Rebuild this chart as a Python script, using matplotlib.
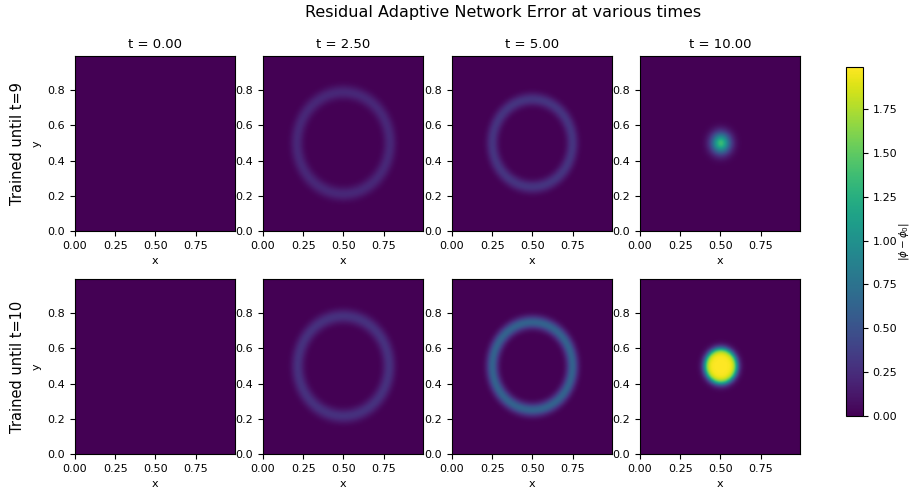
import numpy as np
import matplotlib
matplotlib.use("Agg")
import matplotlib.pyplot as plt

times = [0.0, 2.5, 5.0, 10.0]
row_labels = ["Trained until t=9", "Trained until t=10"]
# per-panel feature parameters: kind, radius, width, amplitude
kinds = [["none", "ring", "ring", "gauss"], ["none", "ring", "ring", "blob"]]
radii = [[0.0, 0.29, 0.25, 0.0], [0.0, 0.285, 0.25, 0.10]]
widths = [[0.03, 0.027, 0.025, 0.042], [0.03, 0.027, 0.025, 0.022]]
amps = [[0.0, 0.22, 0.30, 1.35], [0.0, 0.28, 0.62, 1.99]]
vmax = 1.99

N = 200
xs = np.linspace(0, 0.995, N)
X, Y = np.meshgrid(xs, xs)
R = np.sqrt((X - 0.5) ** 2 + (Y - 0.5) ** 2)


def field(kind, r0, w, a):
    if kind == "ring":
        return a * np.exp(-((R - r0) ** 2) / (2 * w ** 2))
    if kind == "gauss":
        return a * np.exp(-(R ** 2) / (2 * w ** 2))
    if kind == "blob":
        return a * 0.5 * (1 - np.tanh((R - r0) / w))
    return np.zeros_like(R)


fig = plt.figure(figsize=(9.1, 4.9), dpi=100)
lefts = [75, 263, 452, 640]
bottoms = [231, 454]
aw, ah = 160, 175
im = None
for r in range(2):
    for c in range(4):
        ax = fig.add_axes([lefts[c] / 910, 1 - bottoms[r] / 490, aw / 910, ah / 490])
        Z = field(kinds[r][c], radii[r][c], widths[r][c], amps[r][c])
        im = ax.imshow(Z, origin="lower", extent=[0, 0.995, 0, 0.995], cmap="viridis",
                       vmin=0, vmax=vmax, aspect="auto", interpolation="bilinear")
        ax.set_xticks([0, 0.25, 0.5, 0.75])
        ax.set_yticks([0, 0.2, 0.4, 0.6, 0.8])
        ax.tick_params(labelsize=8)
        ax.set_xlabel("x", fontsize=8)
        if c == 0:
            ax.set_ylabel("y", fontsize=8)
            fig.text(18 / 910, 1 - (bottoms[r] - ah / 2) / 490, row_labels[r],
                     rotation=90, va="center", ha="center", fontsize=10.5)
        if r == 0:
            ax.set_title(f"t = {times[c]:.2f}", fontsize=9.5)

cax = fig.add_axes([846 / 910, 1 - 416 / 490, 17 / 910, 349 / 490])
cb = fig.colorbar(im, cax=cax)
cb.set_ticks([0, 0.25, 0.5, 0.75, 1.0, 1.25, 1.5, 1.75])
cb.ax.tick_params(labelsize=8)
cb.set_label(r"$|\phi - \phi_0|$", fontsize=7.5, labelpad=0)

fig.text(503 / 910, 1 - 13 / 490, "Residual Adaptive Network Error at various times",
         fontsize=11.5, ha="center", va="center")
fig.savefig("out.png", dpi=100)
